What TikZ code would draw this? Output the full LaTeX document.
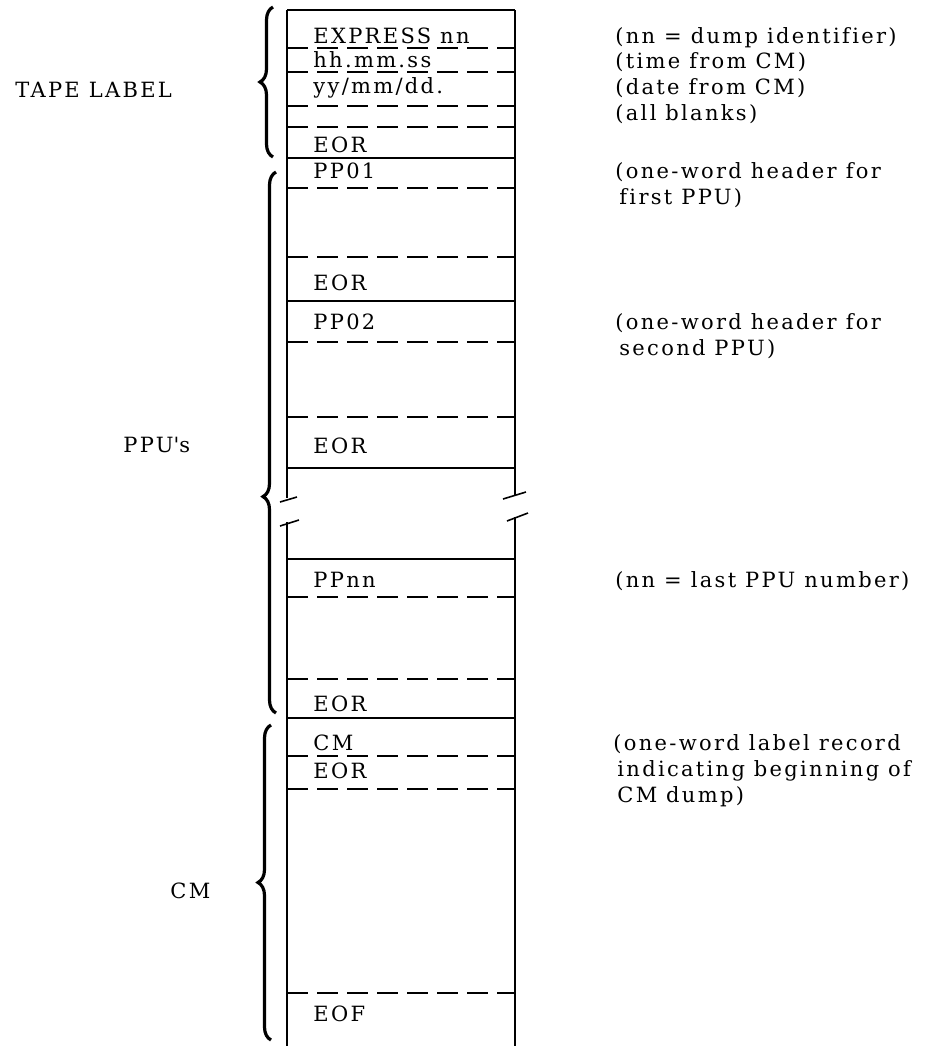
\documentclass[tikz,border=0pt]{standalone}
\usepackage{fontspec}
\setmainfont{DejaVu Serif}[LetterSpace=11,Ligatures={NoCommon}]
\usetikzlibrary{decorations.pathreplacing}
\newcommand\dfont{\fontsize{10.5}{12}\selectfont}
\begin{document}
\begin{tikzpicture}[x=0.5pt,y=-0.5pt,
  lbl/.style={anchor=base west, inner sep=0pt, font=\dfont},
  solidln/.style={line width=1pt},
  dashln/.style={line width=0.85pt, dash pattern=on 10.5pt off 4.5pt},
  brc/.style={decorate, decoration={brace, amplitude=6.5pt, aspect=#1}, line width=1.6pt},
  brc/.default=0.5]
\useasboundingbox (0,0) rectangle (931,1046);
% outline of the record column
\draw[solidln] (287,10) -- (287,498) (287,522) -- (287,1046);
\draw[solidln] (515,10) -- (515,496) (515,517) -- (515,1046);
% break marks
\draw[line width=0.8pt] (280,502) -- (297,497) (280,526) -- (299,520);
\draw[line width=0.8pt] (503,499) -- (526,492) (507,521) -- (528,513);
% solid separators
\foreach \y in {10,158,301,468,559,718} \draw[solidln] (287,\y) -- (515,\y);
% dashed separators
\foreach \y in {48,72,106,127,188,257,342,417,597,679,756,789,993} \draw[dashln] (287,\y) -- (515,\y);
% record texts
\node[lbl] (t1) at (313,43) {EXPRESS nn};
\node[lbl] (t2) at (313,67) {hh.mm.ss};
\node[lbl] (t3) at (313,93) {yy/mm/dd.};
\node[lbl] (t4) at (313,152) {EOR};
\node[lbl] (t5) at (313,178) {PP01};
\node[lbl] (t6) at (313,290) {EOR};
\node[lbl] (t7) at (313,329) {PP02};
\node[lbl] (t8) at (313,453) {EOR};
\node[lbl] (t9) at (313,587) {PPnn};
\node[lbl] (t10) at (313,711) {EOR};
\node[lbl] (t11) at (313,750) {CM};
\node[lbl] (t12) at (313,778) {EOR};
\node[lbl] (t13) at (313,1021) {EOF};
% comments on the right
\node[lbl] (c1) at (615,43) {(nn = dump identifier)};
\node[lbl] (c2) at (615,68) {(time from CM)};
\node[lbl] (c3) at (615,94) {(date from CM)};
\node[lbl] (c4) at (615,120) {(all blanks)};
\node[lbl] (c5) at (615,178) {(one-word header for};
\node[lbl] (c6) at (619,204) {first PPU)};
\node[lbl] (c7) at (615,329) {(one-word header for};
\node[lbl] (c8) at (619,355) {second PPU)};
\node[lbl] (c9) at (615,587) {(nn = last PPU number)};
\node[lbl] (c10) at (613,750) {(one-word label record};
\node[lbl] (c11) at (617,776) {indicating beginning of};
\node[lbl] (c12) at (617,802) {CM dump)};
% group labels
\node[lbl] (g1) at (15,97) {TAPE LABEL};
\node[lbl] (g2) at (123,452) {PPU\textquotesingle s};
\node[lbl] (g3) at (170,898) {CM};
% braces
\coordinate (b1b) at (273,157); \coordinate (b1t) at (273,7);
\coordinate (b2b) at (276,713); \coordinate (b2t) at (276,172);
\coordinate (b3b) at (271,1040); \coordinate (b3t) at (271,725);
\draw[brc] (b1b) -- (b1t);
\draw[brc=0.4] (b2b) -- (b2t);
\draw[brc] (b3b) -- (b3t);
\end{tikzpicture}
\end{document}
